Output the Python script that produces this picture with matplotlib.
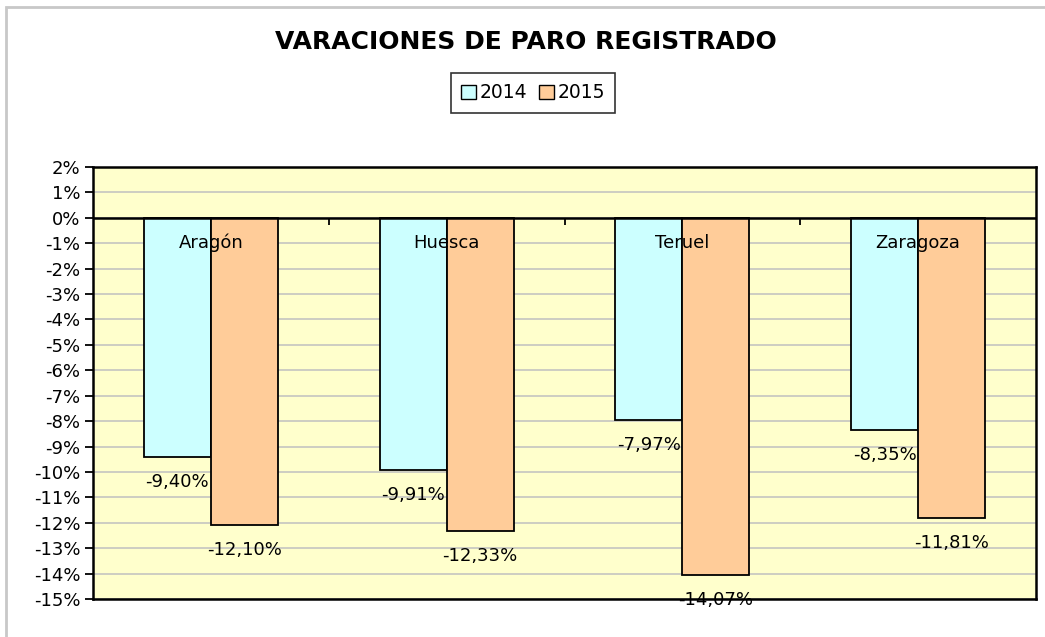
import matplotlib
matplotlib.use("Agg")
import matplotlib.pyplot as plt
import numpy as np
from matplotlib.patches import Rectangle, Patch
from matplotlib.ticker import FuncFormatter

categories = ["Aragón", "Huesca", "Teruel", "Zaragoza"]
series_names = ["2014", "2015"]
values_2014 = [-9.40, -9.91, -7.97, -8.35]
values_2015 = [-12.10, -12.33, -14.07, -11.81]
y_ticks = list(range(-15, 3))

colors = ["#CCFFFF", "#FFCC99"]

plt.rcParams['font.family'] = ['DejaVu Sans']

W, H = 1045, 637
fig = plt.figure(figsize=(W / 100, H / 100), dpi=100)
fig.patch.set_facecolor("white")

# outer chart border (left/top visible)
fig.add_artist(Rectangle((6 / W, -0.1), 1.2, 1.1 - 7 / H, transform=fig.transFigure,
                         fill=False, edgecolor="#C8C8C8", linewidth=2))

ax = fig.add_axes([93 / W, 1 - 599 / H, (1036 - 93) / W, (599 - 167) / H])
ax.set_facecolor("#FFFFCC")

x = np.arange(len(categories))
bw = 134 / 236 / 2
b1 = ax.bar(x - bw / 2, values_2014, bw, color=colors[0], edgecolor="black", linewidth=1.3, zorder=3)
b2 = ax.bar(x + bw / 2, values_2015, bw, color=colors[1], edgecolor="black", linewidth=1.3, zorder=3)

fs = 13
ax.set_xlim(-0.5, len(categories) - 0.5)
ax.set_ylim(-15, 2)
ax.set_yticks(y_ticks)
ax.yaxis.set_major_formatter(FuncFormatter(lambda v, p: f"{int(round(v))}%"))
ax.tick_params(axis='y', direction='out', length=6, width=1.3, labelsize=fs, pad=3)
ax.set_xticks([])
ax.grid(axis='y', color="#C0C0C0", linewidth=1.1, zorder=0)
ax.set_axisbelow(True)
for s in ax.spines.values():
    s.set_linewidth(1.8)
    s.set_zorder(5)

ax.axhline(0, color="black", linewidth=1.8, zorder=4)
ax.vlines(np.arange(len(categories) - 1) + 0.5, -0.3, 0, color="black", linewidth=1.3, zorder=4)

for i, c in enumerate(categories):
    ax.text(i, -1, c, ha='center', va='center', fontsize=fs, zorder=6)

def fmt(v):
    return f"{v:.2f}".replace(".", ",") + "%"

for bars, vals in ((b1, values_2014), (b2, values_2015)):
    for rect, v in zip(bars, vals):
        ax.annotate(fmt(v), (rect.get_x() + rect.get_width() / 2, v), xytext=(0, -25),
                    textcoords='offset pixels', ha='center', va='center', fontsize=fs,
                    zorder=6, annotation_clip=False)

fig.text(526 / W, 1 - 42 / H, "VARACIONES DE PARO REGISTRADO", ha='center', va='center',
         fontsize=18, fontweight='bold')

handles = [Patch(facecolor=colors[i], edgecolor='black', linewidth=1.0) for i in range(2)]
leg = fig.legend(handles, series_names, loc='center', bbox_to_anchor=(533 / W, 1 - 93 / H),
                 ncol=2, frameon=True, fontsize=13.5, handlelength=0.8, handleheight=0.8,
                 handletextpad=0.2, columnspacing=0.6, borderpad=0.55, borderaxespad=0,
                 fancybox=False)
leg.get_frame().set_edgecolor('black')
leg.get_frame().set_linewidth(1.2)

fig.savefig("out.png", dpi=100, facecolor=fig.get_facecolor())
